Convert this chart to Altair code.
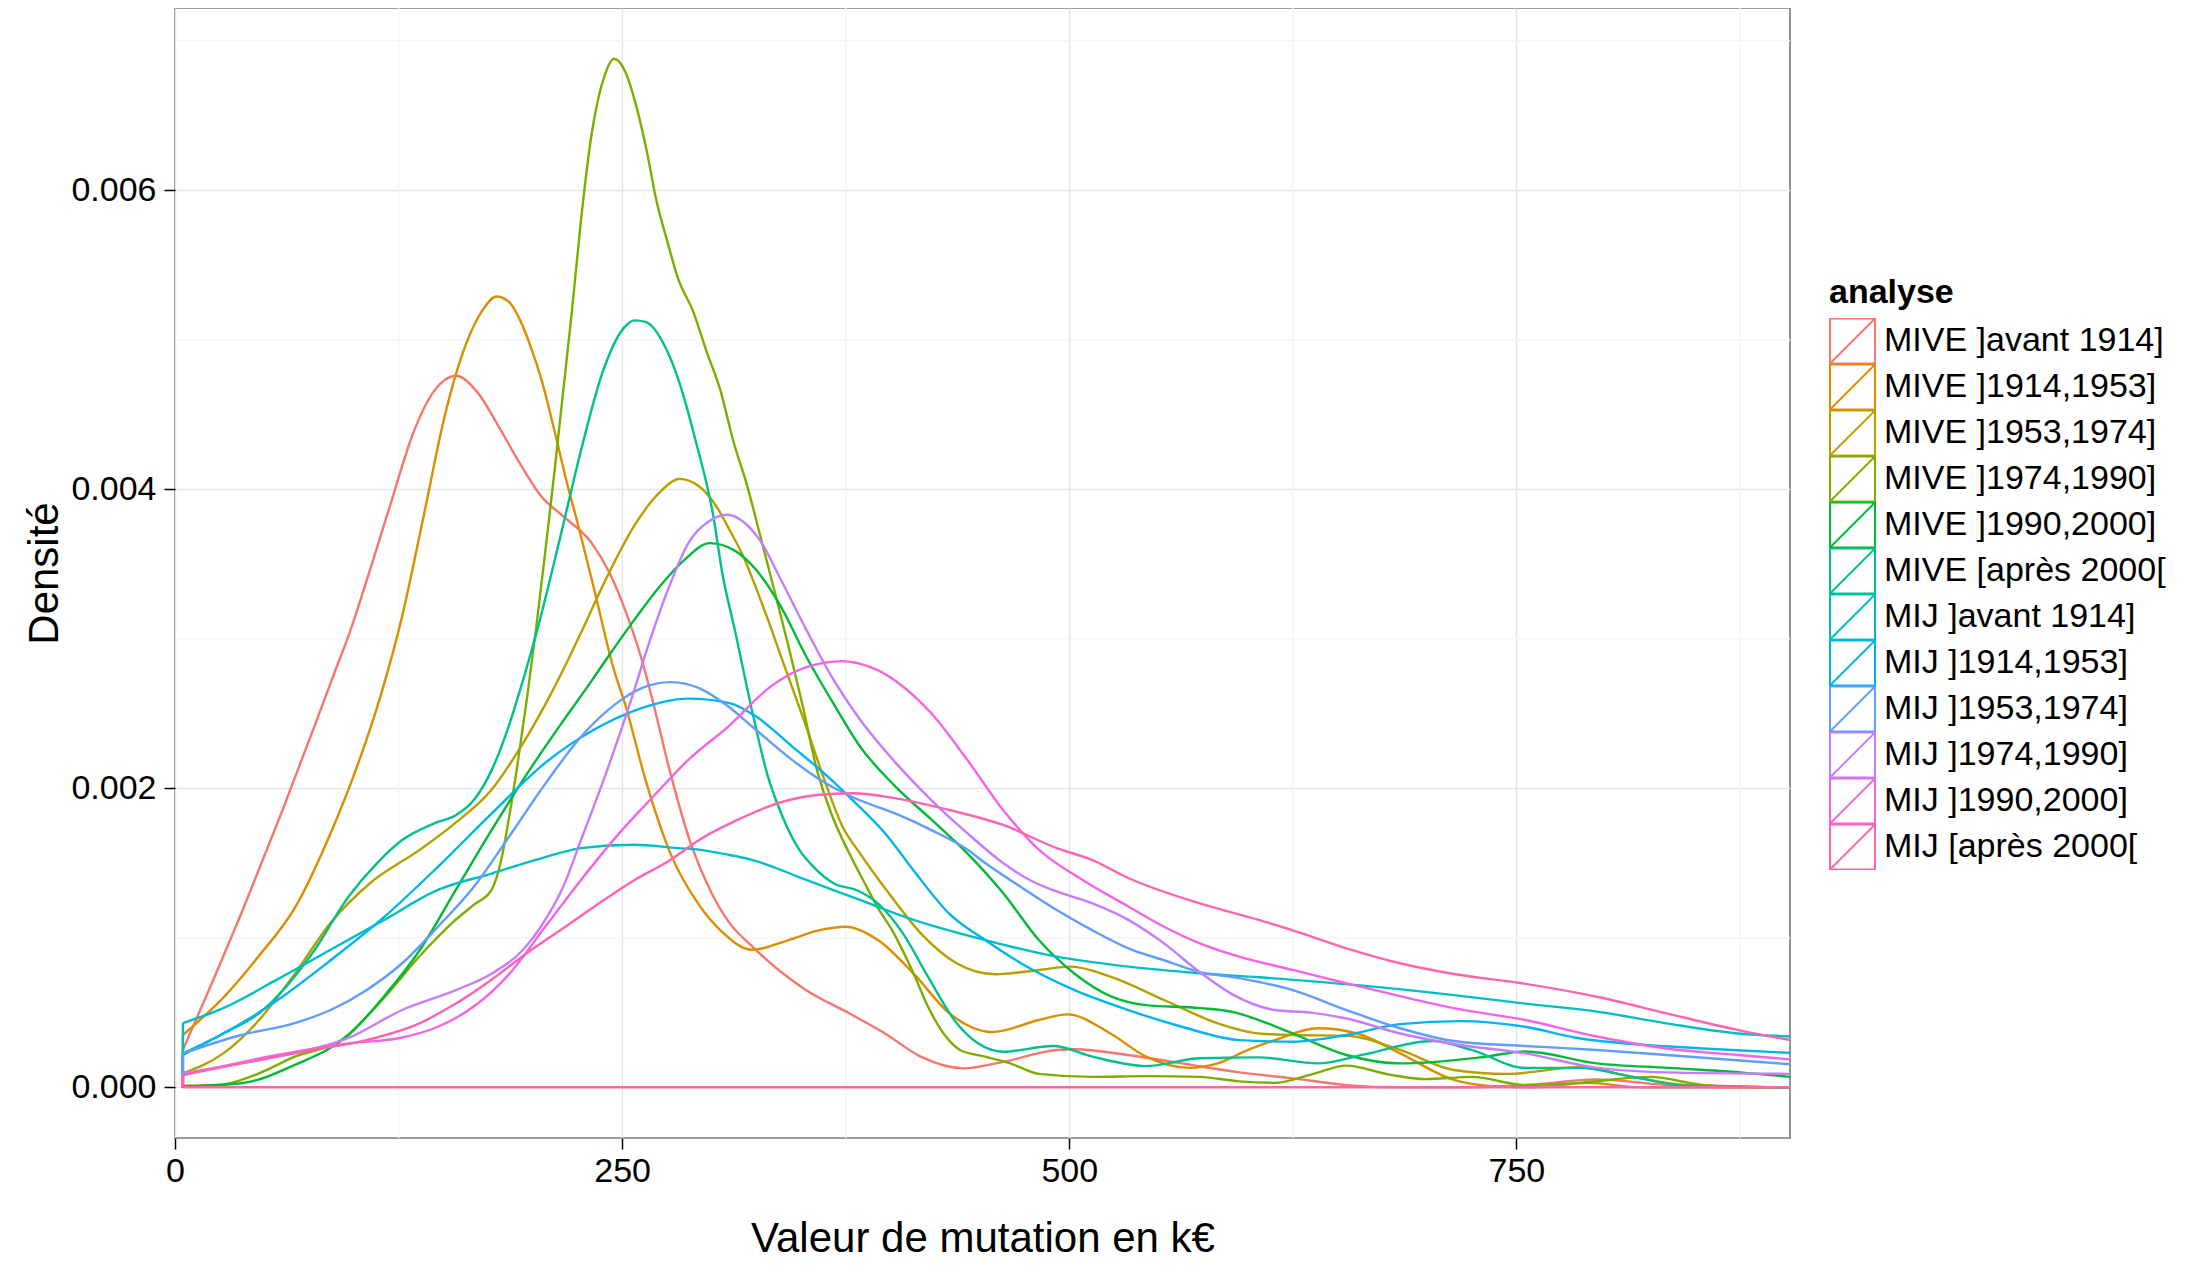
import altair as alt
import pandas as pd

FONT = "Liberation Sans"

series_names = [
    "MIVE ]avant 1914]", "MIVE ]1914,1953]", "MIVE ]1953,1974]", "MIVE ]1974,1990]",
    "MIVE ]1990,2000]", "MIVE [après 2000[", "MIJ ]avant 1914]", "MIJ ]1914,1953]",
    "MIJ ]1953,1974]", "MIJ ]1974,1990]", "MIJ ]1990,2000]", "MIJ [après 2000[",
]
series_colors = ["#F8766D", "#DE8C00", "#B79F00", "#7CAE00", "#00BA38", "#00C08B",
                 "#00BFC4", "#00B4F0", "#619CFF", "#C77CFF", "#F564E3", "#FF64B0"]

# x in k€, density in units of 1e-3
x_mive_avant1914 = [4.4, 20, 40, 60, 80, 90, 97, 109, 121, 133, 145, 157, 169, 181, 193, 205, 217, 233, 243, 253, 261,
                    267, 277, 289, 300, 310, 323, 338, 353, 377, 397, 417, 441, 463, 493, 503, 533, 563, 595, 625, 655,
                    685, 720, 760, 795, 830, 870, 903]
d_mive_avant1914 = [0.25, 0.68, 1.25, 1.85, 2.48, 2.80, 3.02, 3.46, 3.92, 4.37, 4.66, 4.76, 4.65, 4.42, 4.17, 3.95, 3.82, 3.64, 3.44, 3.15, 2.86,
                    2.59, 2.10, 1.61, 1.30, 1.10, 0.94, 0.78, 0.65, 0.495, 0.36, 0.205, 0.127, 0.17, 0.25, 0.255, 0.216, 0.16, 0.10, 0.06, 0.015,
                    0.0, 0.0, 0.02, 0.053, 0.02, 0.0, 0.0]

x_mive_1914 = [4.4, 27, 47, 67, 87, 101, 115, 127, 139, 151, 163, 171, 180, 187, 193, 199, 205, 212, 219, 225,
               235, 245, 252, 263, 277, 293, 305, 323, 343, 360, 375, 393, 413, 433, 457, 483, 499, 523, 543, 567,
               583, 600, 615, 639, 661, 685, 715, 735, 760, 790, 820, 903]
d_mive_1914 = [0.35, 0.60, 0.88, 1.20, 1.70, 2.12, 2.62, 3.15, 3.82, 4.50, 4.98, 5.18, 5.29, 5.25, 5.13, 4.95, 4.73, 4.40, 4.05, 3.78,
               3.30, 2.81, 2.55, 2.06, 1.565, 1.22, 1.05, 0.92, 0.985, 1.05, 1.074, 0.985, 0.76, 0.495, 0.37, 0.45, 0.488, 0.36, 0.205, 0.13,
               0.16, 0.25, 0.316, 0.395, 0.36, 0.227, 0.05, 0.01, 0.0, 0.03, 0.0, 0.0]

x_mive_1953 = [4.4, 27, 47, 67, 87, 109, 137, 157, 177, 193, 207, 219, 227, 241, 257, 271, 282, 293, 303, 310,
               317, 329, 341, 353, 363, 373, 383, 399, 417, 437, 459, 483, 501, 523, 553, 583, 606, 625, 655, 685,
               715, 745, 785, 815, 845, 903]
d_mive_1953 = [0.094, 0.227, 0.45, 0.76, 1.10, 1.365, 1.59, 1.77, 1.99, 2.27, 2.56, 2.84, 3.04, 3.40, 3.76, 3.98, 4.07, 4.02, 3.88, 3.73,
               3.57, 3.21, 2.81, 2.41, 2.06, 1.75, 1.565, 1.30, 1.03, 0.83, 0.756, 0.785, 0.807, 0.74, 0.584, 0.428, 0.36, 0.35, 0.345, 0.25,
               0.116, 0.09, 0.134, 0.07, 0.015, 0.0]

x_mive_1974 = [4.4, 27, 47, 67, 93, 117, 137, 155, 167, 177, 182, 187, 192, 197, 202, 207, 212, 217, 222, 227,
               233, 240, 245.5, 251.5, 258, 264, 269, 275, 281, 290, 297, 305, 312, 320, 327, 335, 343, 351, 359, 367,
               377, 385, 393, 401, 413, 421, 431, 439, 453, 467, 483, 513, 543, 573, 595, 615, 635, 655, 679, 699,
               725, 755, 785, 825, 855, 903]
d_mive_1974 = [0.01, 0.02, 0.094, 0.205, 0.316, 0.6, 0.88, 1.1, 1.22, 1.32, 1.50, 1.82, 2.20, 2.62, 3.08, 3.58, 4.10, 4.65, 5.20, 5.80,
               6.38, 6.76, 6.88, 6.80, 6.56, 6.25, 5.94, 5.67, 5.42, 5.18, 4.93, 4.66, 4.33, 4.02, 3.70, 3.33, 2.95, 2.55, 2.12, 1.83,
               1.565, 1.38, 1.2, 1.05, 0.76, 0.54, 0.34, 0.25, 0.205, 0.16, 0.09, 0.07, 0.075, 0.07, 0.04, 0.03, 0.085, 0.145, 0.085, 0.055,
               0.07, 0.015, 0.03, 0.07, 0.015, 0.0]

x_mive_1990 = [4.4, 37, 67, 97, 117, 137, 157, 177, 197, 217, 233, 241, 257, 271, 285, 299, 313, 325, 339, 353,
               369, 383, 403, 423, 443, 463, 483, 503, 523, 543, 573, 593, 606, 625, 655, 685, 705, 730, 755, 795,
               835, 875, 903]
d_mive_1990 = [0.005, 0.027, 0.15, 0.35, 0.61, 0.92, 1.32, 1.72, 2.10, 2.45, 2.72, 2.86, 3.13, 3.35, 3.53, 3.64, 3.59, 3.46, 3.21, 2.88,
               2.55, 2.28, 2.01, 1.79, 1.565, 1.30, 0.985, 0.76, 0.61, 0.55, 0.53, 0.50, 0.45, 0.36, 0.216, 0.16, 0.17, 0.2, 0.24, 0.16,
               0.13, 0.1, 0.07]

x_mive_2000 = [4.4, 27, 47, 77, 97, 113, 127, 145, 157, 167, 177, 187, 195, 203, 215, 227, 239, 251, 257, 263,
               275, 281, 291, 301, 306, 313, 323, 331, 339, 349, 357, 369, 381, 393, 407, 421, 437, 449, 463, 491,
               513, 543, 573, 606, 639, 665, 703, 725, 755, 785, 815, 845, 903]
d_mive_2000 = [0.216, 0.36, 0.495, 0.90, 1.275, 1.50, 1.654, 1.766, 1.82, 1.92, 2.12, 2.43, 2.74, 3.08, 3.66, 4.26, 4.78, 5.08, 5.13, 5.12,
               4.93, 4.75, 4.33, 3.82, 3.44, 3.06, 2.50, 2.10, 1.83, 1.59, 1.475, 1.36, 1.32, 1.23, 1.03, 0.74, 0.43, 0.294, 0.238, 0.276,
               0.205, 0.142, 0.194, 0.2, 0.16, 0.22, 0.31, 0.25, 0.13, 0.13, 0.07, 0.01, 0.0]

x_mij_avant1914 = [4.4, 27, 57, 87, 117, 147, 177, 207, 227, 257, 281, 293, 310, 323, 353, 383, 413, 453, 493, 533,
                   573, 606, 655, 715, 755, 795, 834, 874, 903]
d_mij_avant1914 = [0.43, 0.53, 0.72, 0.92, 1.12, 1.32, 1.43, 1.54, 1.60, 1.623, 1.60, 1.59, 1.554, 1.52, 1.387, 1.253, 1.12, 0.985, 0.874, 0.807,
                   0.763, 0.736, 0.69, 0.617, 0.56, 0.506, 0.428, 0.36, 0.34]

x_mij_1914 = [4.4, 27, 57, 87, 117, 147, 177, 207, 237, 257, 287, 310, 325, 345, 363, 379, 397, 413, 433, 453,
              473, 503, 533, 563, 595, 625, 655, 685, 719, 755, 785, 815, 854, 903]
d_mij_1914 = [0.227, 0.36, 0.58, 0.85, 1.14, 1.475, 1.83, 2.17, 2.41, 2.52, 2.60, 2.57, 2.48, 2.28, 2.10, 1.92, 1.70, 1.45, 1.16, 0.985,
              0.83, 0.65, 0.517, 0.405, 0.316, 0.305, 0.35, 0.423, 0.443, 0.405, 0.328, 0.29, 0.26, 0.23]

x_mij_1953 = [4.4, 37, 67, 87, 107, 127, 147, 167, 187, 207, 227, 247, 261, 277, 293, 309, 323, 345, 363, 379,
              403, 423, 443, 453, 473, 493, 513, 533, 553, 573, 595, 625, 655, 685, 715, 755, 795, 834, 903]
d_mij_1953 = [0.227, 0.35, 0.43, 0.517, 0.65, 0.83, 1.074, 1.34, 1.68, 2.03, 2.345, 2.57, 2.67, 2.71, 2.67, 2.55, 2.41, 2.19, 2.04, 1.94,
              1.83, 1.72, 1.59, 1.50, 1.34, 1.186, 1.05, 0.93, 0.85, 0.77, 0.73, 0.65, 0.517, 0.395, 0.31, 0.276, 0.25, 0.216, 0.154]

x_mij_1974 = [4.4, 37, 57, 97, 127, 157, 177, 193, 207, 217, 227, 241, 255, 265, 277, 287, 299, 309, 317, 327,
              339, 353, 367, 383, 403, 423, 443, 463, 479, 493, 513, 533, 553, 573, 593, 615, 635, 655, 685, 715,
              755, 795, 834, 903]
d_mij_1974 = [0.094, 0.16, 0.205, 0.33, 0.517, 0.65, 0.76, 0.90, 1.12, 1.34, 1.654, 2.10, 2.59, 2.97, 3.37, 3.64, 3.79, 3.83, 3.79, 3.66,
              3.39, 3.06, 2.75, 2.46, 2.17, 1.92, 1.70, 1.50, 1.38, 1.31, 1.23, 1.12, 0.963, 0.77, 0.61, 0.517, 0.50, 0.46, 0.36, 0.29,
              0.227, 0.13, 0.1, 0.09]

x_mij_1990 = [4.4, 57, 97, 125, 147, 167, 187, 207, 227, 247, 267, 287, 310, 333, 353, 373, 389, 405, 423, 443,
              463, 483, 507, 533, 553, 573, 595, 625, 655, 685, 715, 755, 795, 834, 874, 903]
d_mij_1990 = [0.082, 0.216, 0.294, 0.328, 0.405, 0.54, 0.76, 1.074, 1.387, 1.68, 1.94, 2.19, 2.42, 2.68, 2.81, 2.85, 2.81, 2.70, 2.50, 2.19,
              1.855, 1.59, 1.39, 1.21, 1.074, 0.963, 0.874, 0.785, 0.696, 0.61, 0.53, 0.45, 0.34, 0.26, 0.216, 0.187]

x_mij_2000 = [4.4, 37, 77, 107, 137, 157, 177, 197, 217, 237, 257, 277, 293, 313, 337, 359, 379, 403, 433, 463,
              493, 513, 533, 573, 606, 625, 655, 685, 715, 753, 795, 834, 874, 903]
d_mij_2000 = [0.082, 0.16, 0.25, 0.316, 0.43, 0.56, 0.72, 0.90, 1.064, 1.23, 1.387, 1.52, 1.654, 1.78, 1.90, 1.955, 1.967, 1.933, 1.855, 1.755,
              1.60, 1.52, 1.40, 1.23, 1.12, 1.05, 0.93, 0.83, 0.758, 0.696, 0.606, 0.495, 0.383, 0.316]

series_x = [x_mive_avant1914, x_mive_1914, x_mive_1953, x_mive_1974, x_mive_1990, x_mive_2000,
            x_mij_avant1914, x_mij_1914, x_mij_1953, x_mij_1974, x_mij_1990, x_mij_2000]
series_d = [d_mive_avant1914, d_mive_1914, d_mive_1953, d_mive_1974, d_mive_1990, d_mive_2000,
            d_mij_avant1914, d_mij_1914, d_mij_1953, d_mij_1974, d_mij_1990, d_mij_2000]

x_major_ticks = [0, 250, 500, 750]
x_minor_grid = [125, 375, 625, 875]
y_major_ticks = [0, 0.002, 0.004, 0.006]
y_minor_grid = [0.001, 0.003, 0.005, 0.007]

rows, starts = [], []
for i, (name, xs, ds) in enumerate(zip(series_names, series_x, series_d)):
    assert len(xs) == len(ds), name
    for x, d in zip(xs, ds):
        rows.append({"analyse": name, "k": i, "x": x, "d": d / 1000.0})
    starts.append({"analyse": name, "k": i, "x": xs[0], "d": 0.0, "d2": ds[0] / 1000.0})
df = pd.DataFrame(rows)
df_start = pd.DataFrame(starts)
last = len(series_names) - 1
df_base = pd.DataFrame([{"analyse": series_names[last], "x": series_x[last][0],
                         "x2": series_x[last][-1], "d": 0.0}])

xscale = alt.Scale(domain=[0, 903], nice=False, zero=False)
yscale = alt.Scale(domain=[-0.000339, 0.0072194], nice=False, zero=False)
xaxis = alt.Axis(title="Valeur de mutation en k€", values=x_major_ticks, format="d",
                 labelPadding=5, titlePadding=30, labelFlush=False)
yaxis = alt.Axis(title="Densité", values=y_major_ticks, format=".3f",
                 labelPadding=8, titlePadding=4, labelFlush=False)
X = alt.X("x:Q", scale=xscale, axis=xaxis)
Y = alt.Y("d:Q", scale=yscale, axis=yaxis)

legend = alt.Legend(
    title="analyse", orient="none", legendX=1654, legendY=268,
    symbolType="M-1,-1H1V1H-1Z M-1,1L1,-1", symbolSize=2025,
    symbolStrokeWidth=2, symbolFillColor="transparent", rowPadding=0, clipHeight=46,
    labelOffset=8, labelLimit=500, titlePadding=8, padding=0, titleAnchor="start",
)
C = alt.Color("analyse:N", scale=alt.Scale(domain=series_names, range=series_colors),
              sort=series_names, legend=legend)

minor_x = alt.Chart(pd.DataFrame({"x": x_minor_grid})).mark_rule(
    color="#F5F5F5", strokeWidth=1.4).encode(x=X)
minor_y = alt.Chart(pd.DataFrame({"d": y_minor_grid})).mark_rule(
    color="#F5F5F5", strokeWidth=1.4).encode(y=Y)

lines = alt.Chart(df).mark_line(strokeWidth=2.4, interpolate="monotone", clip=True).encode(
    x=X, y=Y, color=C, detail="k:O", order="x:Q")

start_rules = alt.Chart(df_start).mark_rule(strokeWidth=2.4).encode(
    x=X, y=Y, y2=alt.Y2("d2"), color=C)

base_rule = alt.Chart(df_base).mark_rule(strokeWidth=2.4).encode(
    x=X, x2=alt.X2("x2"), y=Y, color=C)

chart = alt.layer(minor_x, minor_y, lines, start_rules, base_rule).properties(
    width=1615, height=1130,
    autosize=alt.AutoSizeParams(type="none"),
    padding={"left": 167, "top": 0, "right": 380, "bottom": 124},
).configure_view(
    stroke="#7F7F7F", strokeWidth=1.7
).configure_axis(
    labelFont=FONT, titleFont=FONT, labelFontSize=34, titleFontSize=42,
    labelColor="black", titleColor="black", titleFontWeight="normal",
    tickColor="black", tickWidth=1.5, tickSize=11, domain=False,
    gridColor="#E5E5E5", gridWidth=1.4,
).configure_legend(
    labelFont=FONT, titleFont=FONT, labelFontSize=34, titleFontSize=34,
    titleFontWeight="bold", labelColor="black", titleColor="black",
)

chart.save("out.html", embed_options={"renderer": "svg", "actions": False})
